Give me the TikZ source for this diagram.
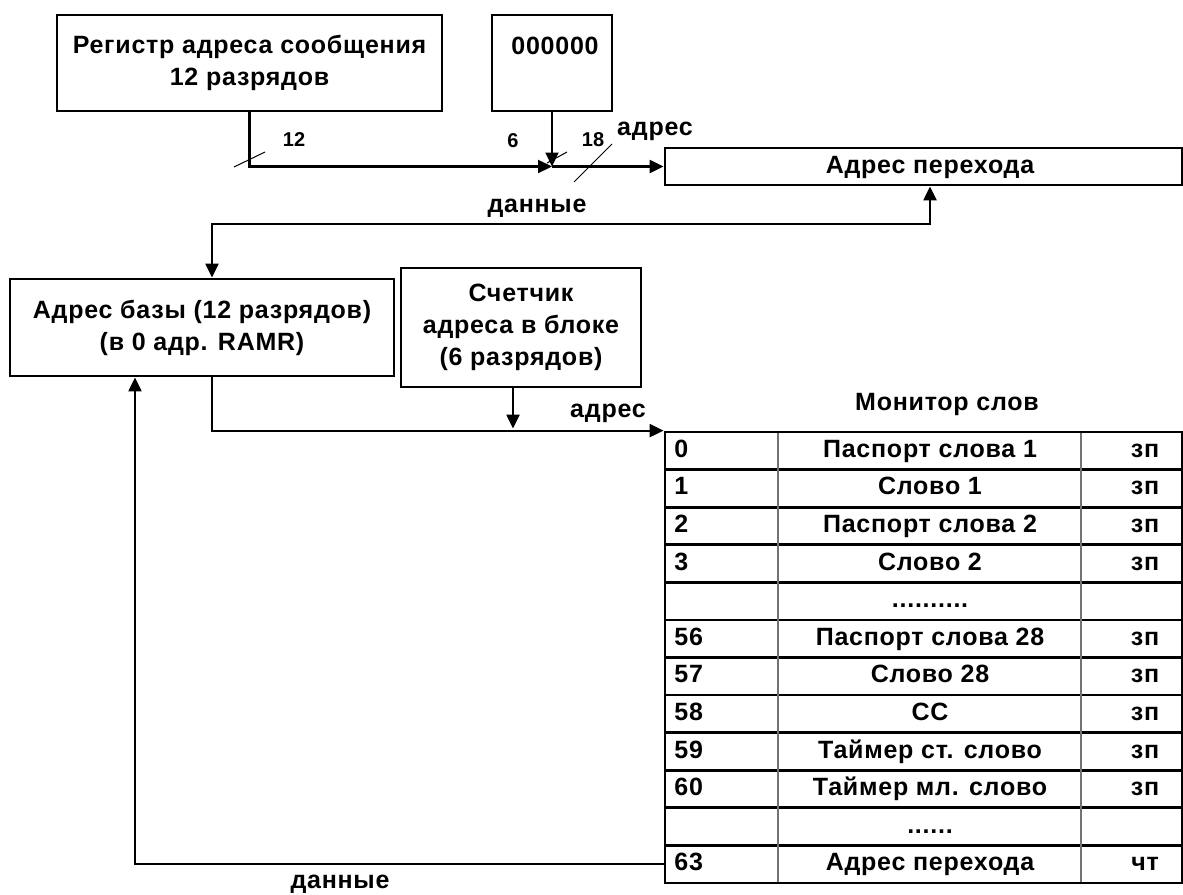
\documentclass[tikz,border=0pt]{standalone}
\usepackage{fontspec}
\setmainfont{Liberation Sans}
\newfontfamily\lblfont[LetterSpace=3]{Liberation Sans}
\usetikzlibrary{arrows,arrows.meta,calc,positioning}
\definecolor{GridClr}{rgb}{0.45,0.45,0.45}
\newcommand{\longdots}{..........}
\newcommand{\shortdots}{......}

\begin{document}
\begin{tikzpicture}[x=0.5pt,y=-0.5pt,
  >={Triangle[length=7pt,width=6.5pt]},
  blk/.style={draw,line width=1.4pt,inner sep=0pt},
  txt/.style={font=\lblfont\bfseries\fontsize{12.5}{16}\selectfont,align=center,inner sep=0pt},
  cell/.style={txt,text height=9pt,text depth=2.6pt},
  small/.style={font=\bfseries\fontsize{10}{12}\selectfont,inner sep=0pt,text height=7.2pt,text depth=0pt},
  ln/.style={line width=1.1pt},
  tick/.style={line width=0.5pt},
  hline/.style={line width=1.4pt},
  vline/.style={line width=0.6pt,color=GridClr}]
\useasboundingbox (0,0) rectangle (1183,894);

% Registers at the top.
\node[blk,minimum width=192.5pt,minimum height=48pt,txt] (reg) at (249.5,63) {Регистр адреса сообщения\\12 разрядов};
\node[blk,minimum width=60pt,minimum height=48pt] (zeros) at (552,63) {};
\node[cell] (zerostxt) at (555,48) {000000};
\node[blk,minimum width=258.5pt,minimum height=18.5pt] (adr) at (923.5,166.5) {};
\node[cell] (adrtxt) at (930,167) {Адрес перехода};

% Base and counter.
\node[blk,minimum width=192pt,minimum height=48.5pt,txt] (base) at (202,327.5) {Адрес базы (12 разрядов)\\(в 0 адр. RAMR)};
\node[blk,minimum width=120pt,minimum height=59.5pt,txt] (cnt) at (521,327.5) {Счетчик\\адреса в блоке\\(6 разрядов)};

% Word monitor.
\node[blk,minimum width=258.5pt,minimum height=225.5pt] (mon) at (923.5,657.5) {};
\foreach \k in {1,...,11}
  \draw[hline] (665,{432+37.58*\k}) -- (1182,{432+37.58*\k});
\draw[vline] (778,433) -- (778,882);
\draw[vline] (1081,433) -- (1081,882);
\foreach \nr/\wrd/\acc [count=\k from 0] in {0/Паспорт слова 1/зп,1/Слово 1/зп,2/Паспорт слова 2/зп,3/Слово 2/зп,/\longdots/,56/Паспорт слова 28/зп,57/Слово 28/зп,58/СС/зп,59/Таймер ст. слово/зп,60/Таймер мл. слово/зп,/\shortdots/,63/Адрес перехода/чт}
{
  \pgfmathsetmacro{\yy}{451+37.58*\k}
  \node[cell,anchor=west] (n\k) at (674,\yy) {\nr};
  \node[cell] (w\k) at (930,\yy) {\wrd};
  \node[cell] (m\k) at (1145,\yy) {\acc};
}

% Address path.
\coordinate (j) at (552,166.5);
\draw[ln,->] (reg.south) |- (j);
\draw[ln,->] (zeros.south) -- (j);
\draw[ln,->] (j) -- (adr.west);
\draw[tick] (234,167) -- (265,152);
\draw[tick] (547,163) -- (567,152);
\draw[tick] (574,182) -- (612,144);
\node[small] (w12) at (294,139) {12};
\node[small] (w6) at (513,140) {6};
\node[small] (w18) at (593,139) {18};
\node[cell] (adrlbl1) at (655,129) {адрес};

% Data bus.
\coordinate (bus) at (212,224);
\draw[ln,<->] ([xshift=3.25pt]adr.south) |- (bus) -- ([xshift=5pt]base.north);
\node[cell] (datlbl1) at (537,206) {данные};

% Address into the monitor.
\draw[ln,->] ([xshift=5pt]base.south) |- (mon.north west);
\draw[ln,->,shorten >=1pt] ([xshift=-4pt]cnt.south) -- ([xshift=-4pt]cnt.south |- mon.north);
\node[cell] (adrlbl2) at (608,411) {адрес};
\node[cell] (montxt) at (947,404) {Монитор слов};

% Data back to the base.
\draw[ln,->] (mon.west |- n11) -| ([xshift=-33.5pt]base.south);
\node[cell] (datlbl2) at (340,882) {данные};
\end{tikzpicture}
\end{document}
